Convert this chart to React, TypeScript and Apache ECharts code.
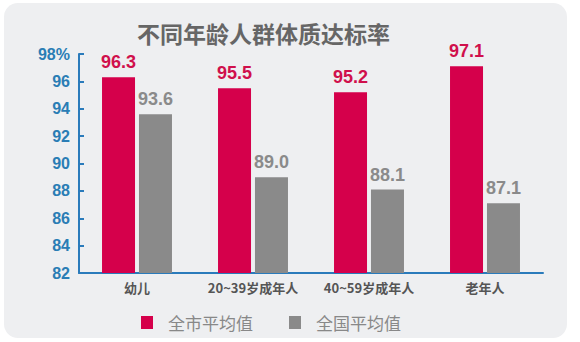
import React, { useEffect, useRef } from "react";
import * as echarts from "echarts";

const categories = ["幼儿", "20~39岁成年人", "40~59岁成年人", "老年人"];
const cityValues = [96.3, 95.5, 95.2, 97.1];
const nationValues = [93.6, 89.0, 88.1, 87.1];
const seriesNames = ["全市平均值", "全国平均值"];
const titleText = "不同年龄人群体质达标率";

export default function App() {
  const ref = useRef<HTMLDivElement>(null);
  useEffect(() => {
    const chart = echarts.init(ref.current!, null, { renderer: "svg" });
    chart.setOption({
      animation: false,
      backgroundColor: "#ffffff",
      graphic: [
        {
          type: "rect",
          z: -10,
          shape: { x: 4, y: 3, width: 563, height: 335, r: 14 },
          style: { fill: "#eeeff1" },
        },
      ],
      title: {
        text: titleText,
        left: 132,
        top: 16,
        textStyle: {
          fontFamily: "Noto Sans CJK SC",
          fontWeight: "bold",
          fontSize: 23,
          color: "#666666",
        },
      },
      legend: {
        bottom: 6,
        left: 136,
        itemWidth: 12,
        itemHeight: 13,
        itemGap: 36,
        icon: "rect",
        data: seriesNames,
        textStyle: {
          fontFamily: "Noto Sans CJK SC",
          fontSize: 17,
          color: "#888888",
          padding: [0, 0, 0, 10],
        },
      },
      grid: { left: 79, right: 37, top: 54, bottom: 69 },
      xAxis: {
        type: "category",
        data: categories,
        axisLine: { lineStyle: { color: "#2a7bbb", width: 2 } },
        axisTick: { inside: true, length: 5, lineStyle: { color: "#2a7bbb", width: 2 } },
        axisLabel: {
          interval: 0,
          fontFamily: "Noto Sans CJK SC",
          fontWeight: "bold",
          fontSize: 13,
          color: "#555555",
          margin: 8,
        },
      },
      yAxis: {
        type: "value",
        min: 82,
        max: 98,
        interval: 2,
        splitLine: { show: false },
        axisLine: { show: true, lineStyle: { color: "#2a7bbb", width: 2 } },
        axisTick: { show: true, inside: true, length: 5, lineStyle: { color: "#2a7bbb", width: 2 } },
        axisLabel: {
          fontFamily: "Liberation Sans",
          fontWeight: "bold",
          fontSize: 16,
          color: "#2a7db5",
          margin: 9,
          formatter: (v: number) => (v === 98 ? v + "%" : String(v)),
        },
      },
      series: [
        {
          name: seriesNames[0],
          type: "bar",
          data: cityValues,
          barWidth: 33,
          barGap: "12%",
          itemStyle: { color: "#d5004b" },
          label: {
            show: true,
            position: "top",
            distance: 6,
            fontFamily: "Liberation Sans",
            fontWeight: "bold",
            fontSize: 18,
            color: "#d0104c",
            formatter: (p: any) => p.value.toFixed(1),
          },
        },
        {
          name: seriesNames[1],
          type: "bar",
          data: nationValues,
          barWidth: 33,
          itemStyle: { color: "#8a8a8a" },
          label: {
            show: true,
            position: "top",
            distance: 6,
            fontFamily: "Liberation Sans",
            fontWeight: "bold",
            fontSize: 18,
            color: "#8a8a8a",
            formatter: (p: any) => p.value.toFixed(1),
          },
        },
      ],
    });
    return () => chart.dispose();
  }, []);
  return (
    <div
      ref={ref}
      style={{ position: "absolute", left: 0, top: 0, width: 580, height: 342 }}
    />
  );
}
